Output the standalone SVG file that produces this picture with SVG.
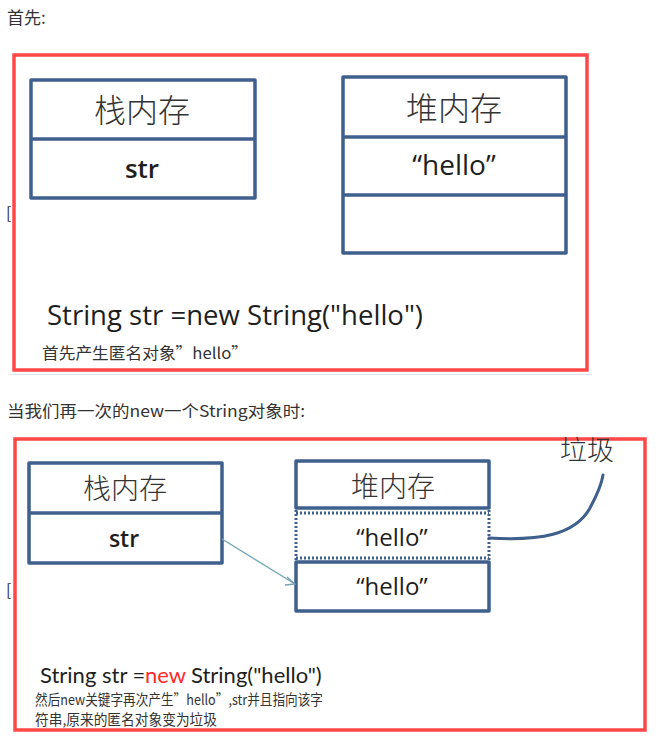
<svg xmlns="http://www.w3.org/2000/svg" width="672" height="738" viewBox="0 0 672 738">
<style>
.frame{fill:none;stroke:#ff4747;stroke-width:3.5}
.box{fill:#fff;stroke:#3f5f8c;stroke-width:3.5;stroke-linejoin:round}
.ln{stroke:#3f5f8c;stroke-width:3.5}
.dot{stroke:#3f5f8c;stroke-width:3;stroke-dasharray:2 2;fill:none}
.cap{font-family:"Noto Sans CJK SC","Noto Sans",sans-serif;fill:#333}
.cjk{font-family:"Noto Sans CJK SC",sans-serif;fill:#333;text-anchor:middle;font-weight:300}
.lat{font-family:"Open Sans","Noto Sans",sans-serif;fill:#1e1e1e;text-anchor:middle}
.code{font-family:"Open Sans","Noto Sans",sans-serif;fill:#1e1e1e}
.code2{font-family:Lato,"Open Sans",sans-serif;font-size:22px;fill:#1e1e1e}
</style>
<rect width="672" height="738" fill="#fff"/>
<text class="cap" x="7" y="24" font-size="17">首先:</text>
<g id="frame1">
<rect class="frame" x="14" y="55" width="573" height="315"/>
<line x1="10" y1="374.5" x2="592" y2="374.5" stroke="#d8e4ec" stroke-width="1"/>
</g>
<text class="cap" x="6" y="219" font-size="16">[</text>
<g id="stack1">
<rect class="box" x="31" y="80" width="224" height="118"/>
<line class="ln" x1="31" y1="139" x2="255" y2="139"/>
<text class="cjk" x="142" y="122" font-size="32">栈内存</text>
<text class="lat" x="142" y="178" font-size="26" font-weight="600">str</text>
</g>
<g id="heap1">
<rect class="box" x="343" y="77" width="223" height="176"/>
<line class="ln" x1="343" y1="137" x2="566" y2="137"/>
<line class="ln" x1="343" y1="195" x2="566" y2="195" stroke-width="5"/>
<text class="cjk" x="454" y="120" font-size="32">堆内存</text>
<text class="lat" x="454" y="175" font-size="28">“hello”</text>
</g>
<text class="code" x="47" y="325" font-size="27" textLength="376" lengthAdjust="spacingAndGlyphs">String str =new String("hello")</text>
<text class="cap" x="42" y="359" font-size="15.5" textLength="206" lengthAdjust="spacingAndGlyphs">首先产生匿名对象”hello”</text>
<text class="cap" x="7" y="417" font-size="16" textLength="298" lengthAdjust="spacingAndGlyphs">当我们再一次的new一个String对象时:</text>
<g id="frame2">
<rect class="frame" x="15" y="439" width="630" height="291"/>
</g>
<text class="cap" x="6" y="596" font-size="16">[</text>
<g id="stack2">
<rect class="box" x="29" y="463" width="193" height="100"/>
<line class="ln" x1="29" y1="513" x2="222" y2="513"/>
<text class="cjk" x="125" y="499" font-size="28">栈内存</text>
<text class="lat" x="124" y="547" font-size="23" font-weight="600">str</text>
</g>
<g id="heap2">
<rect class="box" x="296" y="461" width="193" height="47"/>
<line class="dot" x1="296" y1="510" x2="296" y2="561"/>
<line class="dot" x1="489" y1="510" x2="489" y2="561"/>
<line class="dot" x1="296" y1="513" x2="489" y2="513"/>
<line class="dot" x1="296" y1="558" x2="489" y2="558"/>
<rect class="box" x="296" y="562" width="193" height="49"/>
<text class="cjk" x="393" y="497" font-size="28">堆内存</text>
<text class="lat" x="392" y="546" font-size="24">“hello”</text>
<text class="lat" x="392" y="595" font-size="24">“hello”</text>
</g>
<g id="garbage">
<text class="cjk" x="587" y="460" font-size="27">垃圾</text>
</g>
<g id="connectors">
<line x1="222" y1="539" x2="295" y2="584" stroke="#6fa3b3" stroke-width="1.3"/>
<polyline points="287,577 295,584 285,585" fill="none" stroke="#6fa3b3" stroke-width="1.3"/>
<path d="M489,538 C540,541 575,535 590,508 C598,493 602,482 603,475" fill="none" stroke="#3f5f8c" stroke-width="3" stroke-linecap="round"/>
</g>
<text class="code2" x="40" y="683">String str =</text>
<text class="code2" x="145" y="683" style="fill:#ff2a2a">new</text>
<text class="code2" x="191" y="683">String("hello")</text>
<text class="cap" x="35" y="705" font-size="14.5" textLength="288" lengthAdjust="spacingAndGlyphs">然后new关键字再次产生”hello”,str并且指向该字</text>
<text class="cap" x="35" y="725" font-size="14.5" textLength="182" lengthAdjust="spacingAndGlyphs">符串,原来的匿名对象变为垃圾</text>
</svg>
